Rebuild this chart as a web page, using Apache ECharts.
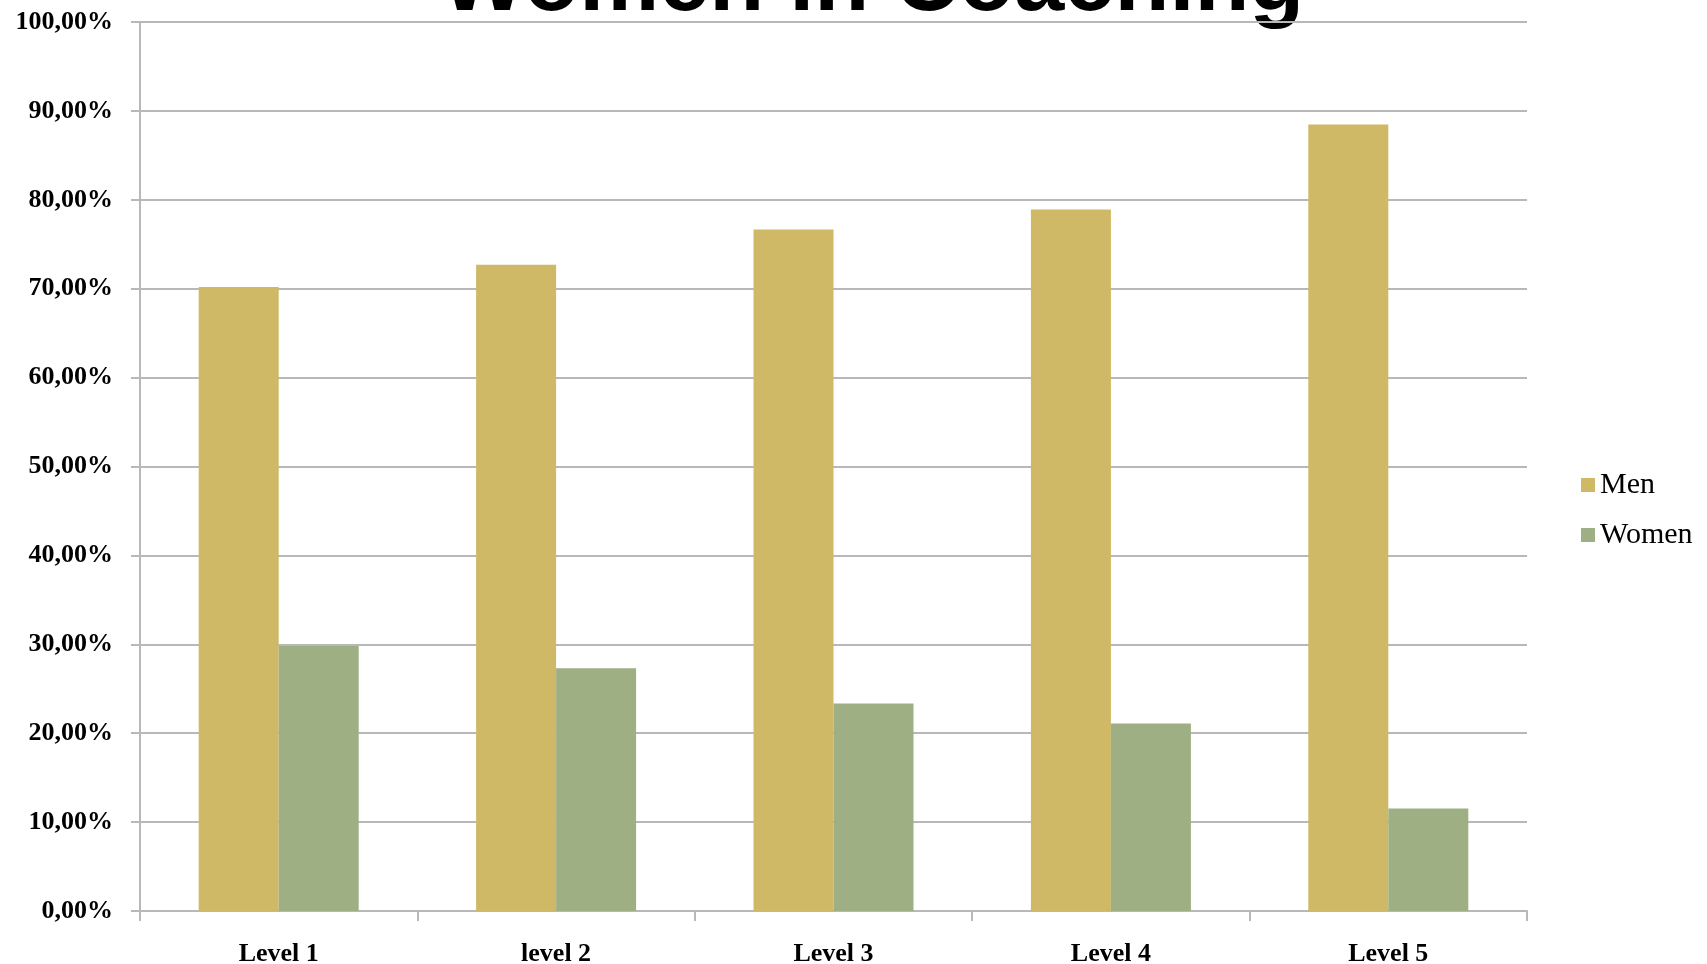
<!DOCTYPE html>
<html>
<head>
<meta charset="utf-8">
<script src="https://cdn.jsdelivr.net/npm/echarts@6/dist/echarts.min.js"></script>
<style>
html,body{margin:0;padding:0;background:#fff;}
#chart{width:1707px;height:964px;}
</style>
</head>
<body>
<div id="chart"></div>
<script>
var categories = ['Level 1', 'level 2', 'Level 3', 'Level 4', 'Level 5'];
var menValues = [70.2, 72.7, 76.65, 78.9, 88.47];
var womenValues = [29.8, 27.3, 23.35, 21.1, 11.53];
var seriesNames = ['Men', 'Women'];
var titleText = 'Women in Coaching';

var chart = echarts.init(document.getElementById('chart'));
var serif = '"Liberation Serif", "Times New Roman", serif';
chart.setOption({
  animation: false,
  backgroundColor: '#ffffff',
  graphic: [{
    type: 'text',
    left: 441,
    top: -60,
    style: {
      text: titleText,
      font: 'bold 90px "Liberation Sans", Arial, sans-serif',
      fill: '#000000'
    }
  }],
  legend: {
    orient: 'vertical',
    left: 1576,
    top: 464,
    itemWidth: 14,
    itemHeight: 14,
    itemGap: 18,
    icon: 'rect',
    textStyle: { fontFamily: serif, fontSize: 30, color: '#000', padding: [0,0,0,0], lineHeight: 32 },
    data: seriesNames
  },
  grid: { left: 140, right: 180, top: 22, bottom: 53, containLabel: false, outerBoundsMode: 'none' },
  xAxis: {
    type: 'category',
    data: categories,
    axisLine: { lineStyle: { color: '#b8b8b8', width: 2 } },
    axisTick: { show: true, length: 10, alignWithLabel: false, lineStyle: { color: '#b8b8b8', width: 2 } },
    axisLabel: { fontFamily: serif, fontSize: 26, fontWeight: 'bold', color: '#000', margin: 30 }
  },
  yAxis: {
    type: 'value',
    min: 0, max: 100, interval: 10,
    axisLine: { show: true, lineStyle: { color: '#b8b8b8', width: 2 } },
    axisTick: { show: true, length: 9, lineStyle: { color: '#b8b8b8', width: 2 } },
    splitLine: { lineStyle: { color: '#b8b8b8', width: 2 } },
    axisLabel: {
      fontFamily: serif, fontSize: 26, fontWeight: 'bold', color: '#000', margin: 27,
      formatter: function (v) { return v.toFixed(2).replace('.', ',') + '%'; }
    }
  },
  series: [
    { name: seriesNames[0], type: 'bar', data: menValues, barWidth: 80, barGap: '0%', itemStyle: { color: '#cfb966' } },
    { name: seriesNames[1], type: 'bar', data: womenValues, barWidth: 80, barGap: '0%', itemStyle: { color: '#9daf83' } }
  ]
});
</script>
</body>
</html>
